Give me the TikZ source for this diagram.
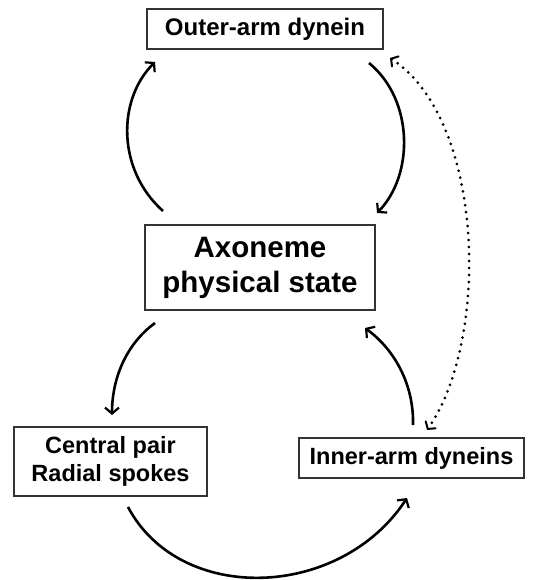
\documentclass[tikz,border=0pt]{standalone}
\usepackage{fontspec}
\setmainfont{Liberation Sans}
\usetikzlibrary{arrows.meta}
\begin{document}
\begin{tikzpicture}[x=1pt,y=-1pt,
  box/.style={draw=black!80,line width=1.4pt,fill=white,inner sep=0pt,align=center,font=\bfseries},
  flow/.style={line width=2.6pt,-{Straight Barb[length=6pt,width=14pt,line width=2.2pt]}},
  dots/.style={line width=3pt,line cap=round,dash pattern=on 0pt off 7pt,{Straight Barb[length=5pt,width=12pt,line width=2pt,line cap=round]}-{Straight Barb[length=5pt,width=12pt,line width=2pt,line cap=round]}}]
\useasboundingbox (0,0) rectangle (541,580);
\node[box,minimum width=236pt,minimum height=40pt,font=\bfseries\fontsize{24}{28}\selectfont] (outer) at (265,29) {Outer-arm dynein};
\node[box,minimum width=230pt,minimum height=85pt,font=\bfseries\fontsize{29.5}{35}\selectfont] (axo) at (260,267.5) {Axoneme\\physical state};
\node[box,minimum width=193pt,minimum height=69pt,font=\bfseries\fontsize{23.5}{28}\selectfont] (cp) at (110.5,461.5) {Central pair\\Radial spokes};
\node[box,minimum width=225pt,minimum height=40pt,font=\bfseries\fontsize{23.5}{27}\selectfont] (ia) at (411.5,458) {Inner-arm dyneins};
% connector ends
\coordinate (a1s) at (163,211); \coordinate (a1e) at (155,62);
\coordinate (a2s) at (369,63); \coordinate (a2e) at (377,213);
\coordinate (a3s) at (390,58); \coordinate (a3e) at (427,430);
\coordinate (a4s) at (155,323); \coordinate (a4e) at (112,415);
\coordinate (a5s) at (128,507); \coordinate (a5e) at (407,498);
\coordinate (a6s) at (413,425); \coordinate (a6e) at (365,328);
\draw[flow] (a1s) .. controls (117,170) and (117,100) .. (a1e);
\draw[flow] (a2s) .. controls (414,100) and (414,175) .. (a2e);
\draw[dots] (a3s) .. controls (485,120) and (490,340) .. (a3e);
\draw[flow] (a4s) .. controls (125,345) and (112,380) .. (a4e);
\draw[flow] (a5s) .. controls (180,605) and (340,600) .. (a5e);
\draw[flow] (a6s) .. controls (414,385) and (395,350) .. (a6e);
\end{tikzpicture}
\end{document}
